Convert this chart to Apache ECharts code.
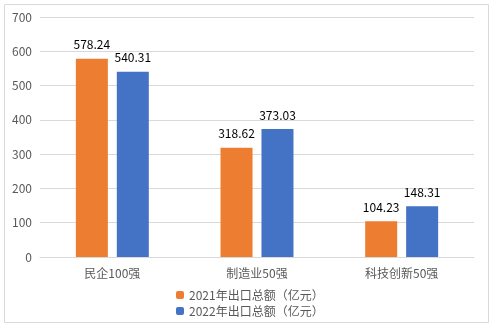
<!DOCTYPE html>
<html><head><meta charset="utf-8">
<script src="https://cdn.jsdelivr.net/npm/echarts@6/dist/echarts.min.js"></script>
<style>html,body{margin:0;padding:0;background:#fff}#c{width:495px;height:327px}</style>
</head><body><div id="c"></div>
<script>
const categories = ['民企100强', '制造业50强', '科技创新50强'];
const series2021 = [578.24, 318.62, 104.23];
const series2022 = [540.31, 373.03, 148.31];
const seriesNames = ['2021年出口总额（亿元）', '2022年出口总额（亿元）'];
const yTicks = [0, 100, 200, 300, 400, 500, 600, 700];

const font = '"Microsoft YaHei","Noto Sans CJK SC",sans-serif';
const chart = echarts.init(document.getElementById('c'));
chart.setOption({
  animation: false,
  graphic: [{type:'rect', shape:{x:4.5,y:4.5,width:484,height:318}, style:{fill:'none', stroke:'#d9d9d9', lineWidth:1}}],
  grid: {left: 40, right: 21, top: 17, bottom: 70},
  legend: {
    orient: 'vertical', left: 171, top: 284, itemWidth: 8, itemHeight: 8, itemGap: 4,
    textStyle: {fontSize: 12, color: '#595959', fontFamily: font},
    data: seriesNames
  },
  xAxis: {
    type: 'category', data: categories,
    axisLine: {lineStyle: {color: '#d9d9d9'}}, axisTick: {show: false},
    axisLabel: {fontSize: 12, color: '#595959', fontFamily: font, margin: 10}
  },
  yAxis: {
    type: 'value', min: yTicks[0], max: yTicks[yTicks.length-1], interval: 100,
    axisLine: {show: false}, axisTick: {show: false},
    splitLine: {lineStyle: {color: '#d9d9d9'}},
    axisLabel: {fontSize: 12, color: '#595959', fontFamily: font, margin: 8}
  },
  series: [
    {name: seriesNames[0], type: 'bar', data: series2021, barWidth: 32, barGap: '28%',
     itemStyle: {color: '#ed7d31'},
     label: {show: true, position: 'top', color: '#000', fontSize: 12, fontFamily: font, distance: 8}},
    {name: seriesNames[1], type: 'bar', data: series2022, barWidth: 32,
     itemStyle: {color: '#4472c4'},
     label: {show: true, position: 'top', color: '#000', fontSize: 12, fontFamily: font, distance: 8}}
  ]
});
</script></body></html>
